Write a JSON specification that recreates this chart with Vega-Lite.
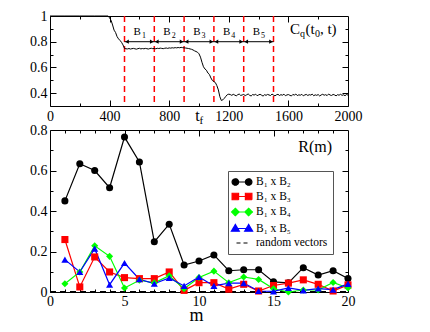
{
  "$schema": "https://vega.github.io/schema/vega-lite/v6.json",
  "padding": {"left": 29, "top": 8, "right": 5, "bottom": 5},
  "config": {
    "view": {"stroke": "black", "strokeWidth": 1},
    "axis": {"labelFont": "Liberation Serif", "labelFontSize": 14, "labelColor": "black", "tickColor": "black", "tickWidth": 1, "domain": false, "grid": false, "titleFont": "Liberation Serif", "titleFontWeight": "normal", "titleColor": "black", "labelOverlap": false, "labelFlush": false},
    "text": {"font": "Liberation Serif", "color": "black"}
  },
  "datasets": {
    "cq": [
      {"t":0,"c":1},{"t":100,"c":1},{"t":200,"c":1},{"t":300,"c":1},{"t":390,"c":1},
      {"t":400,"c":0.985},{"t":410,"c":0.966},{"t":420,"c":0.93},{"t":430,"c":0.89},{"t":440,"c":0.872},{"t":450,"c":0.84},{"t":460,"c":0.822},{"t":470,"c":0.81},{"t":480,"c":0.795},{"t":490,"c":0.775},{"t":500,"c":0.748},{"t":510,"c":0.745},
      {"t":520,"c":0.744},{"t":530,"c":0.747},{"t":540,"c":0.743},{"t":550,"c":0.746},{"t":560,"c":0.748},{"t":570,"c":0.745},{"t":580,"c":0.742},{"t":590,"c":0.746},{"t":600,"c":0.749},{"t":610,"c":0.744},
      {"t":620,"c":0.747},{"t":630,"c":0.745},{"t":640,"c":0.748},{"t":650,"c":0.746},{"t":660,"c":0.743},{"t":670,"c":0.747},{"t":680,"c":0.749},{"t":690,"c":0.746},{"t":700,"c":0.748},{"t":710,"c":0.745},
      {"t":720,"c":0.749},{"t":730,"c":0.747},{"t":740,"c":0.75},{"t":750,"c":0.748},{"t":760,"c":0.746},{"t":770,"c":0.749},{"t":780,"c":0.751},{"t":790,"c":0.748},{"t":800,"c":0.752},{"t":810,"c":0.75},
      {"t":820,"c":0.753},{"t":830,"c":0.751},{"t":840,"c":0.754},{"t":850,"c":0.752},{"t":860,"c":0.755},{"t":870,"c":0.753},{"t":880,"c":0.756},
      {"t":890,"c":0.754},{"t":900,"c":0.752},{"t":910,"c":0.751},{"t":920,"c":0.749},{"t":930,"c":0.747},{"t":940,"c":0.744},{"t":950,"c":0.741},{"t":960,"c":0.736},{"t":970,"c":0.729},{"t":980,"c":0.724},
      {"t":990,"c":0.718},{"t":1000,"c":0.706},{"t":1010,"c":0.68},{"t":1020,"c":0.64},{"t":1030,"c":0.605},{"t":1040,"c":0.588},{"t":1050,"c":0.578},{"t":1060,"c":0.556},{"t":1070,"c":0.545},{"t":1080,"c":0.518},
      {"t":1090,"c":0.498},{"t":1100,"c":0.49},{"t":1110,"c":0.482},{"t":1120,"c":0.458},{"t":1130,"c":0.425},{"t":1140,"c":0.372},{"t":1150,"c":0.343},{"t":1160,"c":0.348},{"t":1170,"c":0.36},{"t":1180,"c":0.375},
      {"t":1190,"c":0.388},{"t":1200,"c":0.392},
      {"t":1210,"c":0.389},{"t":1220,"c":0.383},{"t":1230,"c":0.391},{"t":1240,"c":0.385},{"t":1250,"c":0.379},{"t":1260,"c":0.388},{"t":1270,"c":0.393},{"t":1280,"c":0.382},{"t":1290,"c":0.386},{"t":1300,"c":0.39},
      {"t":1310,"c":0.381},{"t":1320,"c":0.387},{"t":1330,"c":0.394},{"t":1340,"c":0.383},{"t":1350,"c":0.378},{"t":1360,"c":0.389},{"t":1370,"c":0.385},{"t":1380,"c":0.392},{"t":1390,"c":0.38},{"t":1400,"c":0.386},
      {"t":1410,"c":0.391},{"t":1420,"c":0.384},{"t":1430,"c":0.377},{"t":1440,"c":0.388},{"t":1450,"c":0.383},{"t":1460,"c":0.39},{"t":1470,"c":0.386},{"t":1480,"c":0.381},{"t":1490,"c":0.393},{"t":1500,"c":0.385},
      {"t":1510,"c":0.379},{"t":1520,"c":0.387},{"t":1530,"c":0.391},{"t":1540,"c":0.382},{"t":1550,"c":0.388},{"t":1560,"c":0.384},{"t":1570,"c":0.392},{"t":1580,"c":0.38},{"t":1590,"c":0.386},{"t":1600,"c":0.389},
      {"t":1610,"c":0.383},{"t":1620,"c":0.378},{"t":1630,"c":0.39},{"t":1640,"c":0.385},{"t":1650,"c":0.393},{"t":1660,"c":0.381},{"t":1670,"c":0.387},{"t":1680,"c":0.384},{"t":1690,"c":0.391},{"t":1700,"c":0.379},
      {"t":1710,"c":0.386},{"t":1720,"c":0.39},{"t":1730,"c":0.382},{"t":1740,"c":0.388},{"t":1750,"c":0.385},{"t":1760,"c":0.392},{"t":1770,"c":0.38},{"t":1780,"c":0.387},{"t":1790,"c":0.383},{"t":1800,"c":0.389},
      {"t":1810,"c":0.378},{"t":1820,"c":0.386},{"t":1830,"c":0.391},{"t":1840,"c":0.384},{"t":1850,"c":0.388},{"t":1860,"c":0.381},{"t":1870,"c":0.393},{"t":1880,"c":0.385},{"t":1890,"c":0.382},{"t":1900,"c":0.39},
      {"t":1910,"c":0.386},{"t":1920,"c":0.379},{"t":1930,"c":0.388},{"t":1940,"c":0.384},{"t":1950,"c":0.391},{"t":1960,"c":0.383},{"t":1970,"c":0.387},{"t":1980,"c":0.38},{"t":1990,"c":0.389},{"t":2000,"c":0.385}
    ],
    "blocks": [
      {"n":"1","start":500,"end":700,"mid":600},
      {"n":"2","start":700,"end":900,"mid":800},
      {"n":"3","start":900,"end":1100,"mid":1000},
      {"n":"4","start":1100,"end":1300,"mid":1200},
      {"n":"5","start":1300,"end":1500,"mid":1400}
    ],
    "edges": [{"t":500},{"t":700},{"t":900},{"t":1100},{"t":1300},{"t":1500}],
    "rm": [
      {"m":1,"s":"B₁ x B₂","r":0.45},{"m":2,"s":"B₁ x B₂","r":0.633},{"m":3,"s":"B₁ x B₂","r":0.6},{"m":4,"s":"B₁ x B₂","r":0.515},{"m":5,"s":"B₁ x B₂","r":0.765},
      {"m":6,"s":"B₁ x B₂","r":0.642},{"m":7,"s":"B₁ x B₂","r":0.248},{"m":8,"s":"B₁ x B₂","r":0.335},{"m":9,"s":"B₁ x B₂","r":0.133},{"m":10,"s":"B₁ x B₂","r":0.153},
      {"m":11,"s":"B₁ x B₂","r":0.183},{"m":12,"s":"B₁ x B₂","r":0.105},{"m":13,"s":"B₁ x B₂","r":0.11},{"m":14,"s":"B₁ x B₂","r":0.11},{"m":15,"s":"B₁ x B₂","r":0.05},
      {"m":16,"s":"B₁ x B₂","r":0.045},{"m":17,"s":"B₁ x B₂","r":0.12},{"m":18,"s":"B₁ x B₂","r":0.084},{"m":19,"s":"B₁ x B₂","r":0.105},{"m":20,"s":"B₁ x B₂","r":0.067},
      {"m":1,"s":"B₁ x B₃","r":0.259},{"m":2,"s":"B₁ x B₃","r":0.025},{"m":3,"s":"B₁ x B₃","r":0.173},{"m":4,"s":"B₁ x B₃","r":0.099},{"m":5,"s":"B₁ x B₃","r":0.071},
      {"m":6,"s":"B₁ x B₃","r":0.066},{"m":7,"s":"B₁ x B₃","r":0.066},{"m":8,"s":"B₁ x B₃","r":0.099},{"m":9,"s":"B₁ x B₃","r":0.008},{"m":10,"s":"B₁ x B₃","r":0.046},
      {"m":11,"s":"B₁ x B₃","r":0.046},{"m":12,"s":"B₁ x B₃","r":0.014},{"m":13,"s":"B₁ x B₃","r":0.038},{"m":14,"s":"B₁ x B₃","r":0.005},{"m":15,"s":"B₁ x B₃","r":0.032},
      {"m":16,"s":"B₁ x B₃","r":0.044},{"m":17,"s":"B₁ x B₃","r":0.06},{"m":18,"s":"B₁ x B₃","r":0.038},{"m":19,"s":"B₁ x B₃","r":0.005},{"m":20,"s":"B₁ x B₃","r":0.035},
      {"m":1,"s":"B₁ x B₄","r":0.041},{"m":2,"s":"B₁ x B₄","r":0.099},{"m":3,"s":"B₁ x B₄","r":0.228},{"m":4,"s":"B₁ x B₄","r":0.176},{"m":5,"s":"B₁ x B₄","r":0.02},
      {"m":6,"s":"B₁ x B₄","r":0.058},{"m":7,"s":"B₁ x B₄","r":0.045},{"m":8,"s":"B₁ x B₄","r":0.08},{"m":9,"s":"B₁ x B₄","r":0.016},{"m":10,"s":"B₁ x B₄","r":0.072},
      {"m":11,"s":"B₁ x B₄","r":0.103},{"m":12,"s":"B₁ x B₄","r":0.046},{"m":13,"s":"B₁ x B₄","r":0.074},{"m":14,"s":"B₁ x B₄","r":0.062},{"m":15,"s":"B₁ x B₄","r":0.016},
      {"m":16,"s":"B₁ x B₄","r":0.0},{"m":17,"s":"B₁ x B₄","r":0.01},{"m":18,"s":"B₁ x B₄","r":0.01},{"m":19,"s":"B₁ x B₄","r":0.047},{"m":20,"s":"B₁ x B₄","r":0.02},
      {"m":1,"s":"B₁ x B₅","r":0.16},{"m":2,"s":"B₁ x B₅","r":0.099},{"m":3,"s":"B₁ x B₅","r":0.214},{"m":4,"s":"B₁ x B₅","r":0.036},{"m":5,"s":"B₁ x B₅","r":0.143},
      {"m":6,"s":"B₁ x B₅","r":0.063},{"m":7,"s":"B₁ x B₅","r":0.041},{"m":8,"s":"B₁ x B₅","r":0.069},{"m":9,"s":"B₁ x B₅","r":0.03},{"m":10,"s":"B₁ x B₅","r":0.074},
      {"m":11,"s":"B₁ x B₅","r":0.03},{"m":12,"s":"B₁ x B₅","r":0.044},{"m":13,"s":"B₁ x B₅","r":0.044},{"m":14,"s":"B₁ x B₅","r":0.005},{"m":15,"s":"B₁ x B₅","r":0.003},
      {"m":16,"s":"B₁ x B₅","r":0.02},{"m":17,"s":"B₁ x B₅","r":0.008},{"m":18,"s":"B₁ x B₅","r":0.017},{"m":19,"s":"B₁ x B₅","r":0.012},{"m":20,"s":"B₁ x B₅","r":0.04},
      {"m":0,"s":"random vectors","r":0.002},{"m":20,"s":"random vectors","r":0.002}
    ]
  },
  "spacing": 24,
  "bounds": "flush",
  "vconcat": [
    {
      "width": 298,
      "height": 90,
      "resolve": {"axis": {"x": "independent", "y": "independent"}},
      "layer": [
        {
          "data": {"name": "cq"},
          "mark": {"type": "line", "strokeOpacity": 0},
          "encoding": {
            "x": {"field": "t", "type": "quantitative", "scale": {"domain": [0, 2000], "nice": false},
              "axis": {"orient": "top", "values": [200,400,600,800,1000,1200,1400,1600,1800], "labels": false, "title": null,
                "tickSize": {"condition": {"test": "datum.value % 400 === 0", "value": -6}, "value": -3}}},
            "y": {"field": "c", "type": "quantitative", "scale": {"domain": [0.3, 1], "nice": false, "zero": false},
              "axis": {"orient": "right", "values": [0.4,0.5,0.6,0.7,0.8,0.9], "labels": false, "title": null,
                "tickSize": {"condition": {"test": "round(datum.value*10) % 2 === 0", "value": -6}, "value": -3}}}
          }
        },
        {
          "data": {"name": "edges"},
          "mark": {"type": "rule", "color": "#ff0000", "strokeWidth": 1.5, "strokeDash": [6, 4]},
          "encoding": {
            "x": {"field": "t", "type": "quantitative", "scale": {"domain": [0, 2000], "nice": false}, "axis": null}
          }
        },
        {
          "data": {"name": "blocks"},
          "mark": {"type": "rule", "color": "black", "strokeWidth": 1},
          "encoding": {
            "x": {"field": "start", "type": "quantitative", "scale": {"domain": [0, 2000], "nice": false}, "axis": null},
            "x2": {"field": "end"},
            "y": {"datum": 0.8, "type": "quantitative", "scale": {"domain": [0.3, 1], "nice": false, "zero": false}, "axis": null}
          }
        },
        {
          "data": {"name": "blocks"},
          "mark": {"type": "point", "shape": "triangle-left", "filled": true, "color": "black", "opacity": 1, "size": 18, "xOffset": 2.5},
          "encoding": {
            "x": {"field": "start", "type": "quantitative", "scale": {"domain": [0, 2000], "nice": false}, "axis": null},
            "y": {"datum": 0.8, "type": "quantitative", "scale": {"domain": [0.3, 1], "nice": false, "zero": false}, "axis": null}
          }
        },
        {
          "data": {"name": "blocks"},
          "mark": {"type": "point", "shape": "triangle-right", "filled": true, "color": "black", "opacity": 1, "size": 18, "xOffset": -2.5},
          "encoding": {
            "x": {"field": "end", "type": "quantitative", "scale": {"domain": [0, 2000], "nice": false}, "axis": null},
            "y": {"datum": 0.8, "type": "quantitative", "scale": {"domain": [0.3, 1], "nice": false, "zero": false}, "axis": null}
          }
        },
        {
          "data": {"name": "blocks"},
          "mark": {"type": "text", "text": "B", "align": "right", "baseline": "alphabetic", "dx": 1.5, "fontSize": 11},
          "encoding": {
            "x": {"field": "mid", "type": "quantitative", "scale": {"domain": [0, 2000], "nice": false}, "axis": null},
            "y": {"datum": 0.852, "type": "quantitative", "scale": {"domain": [0.3, 1], "nice": false, "zero": false}, "axis": null}
          }
        },
        {
          "data": {"name": "blocks"},
          "mark": {"type": "text", "align": "left", "baseline": "alphabetic", "dx": 2.5, "dy": 2.5, "fontSize": 8},
          "encoding": {
            "x": {"field": "mid", "type": "quantitative", "scale": {"domain": [0, 2000], "nice": false}, "axis": null},
            "y": {"datum": 0.852, "type": "quantitative", "scale": {"domain": [0.3, 1], "nice": false, "zero": false}, "axis": null},
            "text": {"field": "n"}
          }
        },
        {
          "data": {"name": "cq"},
          "mark": {"type": "line", "color": "black", "strokeWidth": 1},
          "encoding": {
            "x": {"field": "t", "type": "quantitative", "scale": {"domain": [0, 2000], "nice": false},
              "axis": {"orient": "bottom", "values": [0,200,400,600,800,1000,1200,1400,1600,1800,2000], "title": null,
                "labelExpr": "datum.value % 400 === 0 ? format(datum.value, 'd') : ''", "labelPadding": 9,
                "tickSize": {"condition": {"test": "datum.value % 400 === 0", "value": -6}, "value": -3}}},
            "y": {"field": "c", "type": "quantitative", "scale": {"domain": [0.3, 1], "nice": false, "zero": false},
              "axis": {"orient": "left", "values": [0.4,0.5,0.6,0.7,0.8,0.9,1.0], "title": null,
                "labelExpr": "round(datum.value*10) % 2 === 0 ? format(datum.value, '~g') : ''", "labelPadding": 9,
                "tickSize": {"condition": {"test": "round(datum.value*10) % 2 === 0", "value": -6}, "value": -3}}}
          }
        },
        {
          "data": {"values": [{}]},
          "mark": {"type": "text", "text": "C", "align": "left", "baseline": "alphabetic", "fontSize": 15},
          "encoding": {
            "x": {"datum": 1610, "type": "quantitative", "scale": {"domain": [0, 2000], "nice": false}, "axis": null},
            "y": {"datum": 0.862, "type": "quantitative", "scale": {"domain": [0.3, 1], "nice": false, "zero": false}, "axis": null}
          }
        },
        {
          "data": {"values": [{}]},
          "mark": {"type": "text", "text": "q", "align": "left", "baseline": "alphabetic", "fontSize": 10, "dx": 10, "dy": 3.5},
          "encoding": {
            "x": {"datum": 1610, "type": "quantitative", "scale": {"domain": [0, 2000], "nice": false}, "axis": null},
            "y": {"datum": 0.862, "type": "quantitative", "scale": {"domain": [0.3, 1], "nice": false, "zero": false}, "axis": null}
          }
        },
        {
          "data": {"values": [{}]},
          "mark": {"type": "text", "text": "(t", "align": "left", "baseline": "alphabetic", "fontSize": 15, "dx": 15.5},
          "encoding": {
            "x": {"datum": 1610, "type": "quantitative", "scale": {"domain": [0, 2000], "nice": false}, "axis": null},
            "y": {"datum": 0.862, "type": "quantitative", "scale": {"domain": [0.3, 1], "nice": false, "zero": false}, "axis": null}
          }
        },
        {
          "data": {"values": [{}]},
          "mark": {"type": "text", "text": "0", "align": "left", "baseline": "alphabetic", "fontSize": 10, "dx": 25, "dy": 3.5},
          "encoding": {
            "x": {"datum": 1610, "type": "quantitative", "scale": {"domain": [0, 2000], "nice": false}, "axis": null},
            "y": {"datum": 0.862, "type": "quantitative", "scale": {"domain": [0.3, 1], "nice": false, "zero": false}, "axis": null}
          }
        },
        {
          "data": {"values": [{}]},
          "mark": {"type": "text", "text": ", t)", "align": "left", "baseline": "alphabetic", "fontSize": 15, "dx": 30},
          "encoding": {
            "x": {"datum": 1610, "type": "quantitative", "scale": {"domain": [0, 2000], "nice": false}, "axis": null},
            "y": {"datum": 0.862, "type": "quantitative", "scale": {"domain": [0.3, 1], "nice": false, "zero": false}, "axis": null}
          }
        },
        {
          "data": {"values": [{}]},
          "mark": {"type": "text", "text": "t", "align": "center", "baseline": "alphabetic", "fontSize": 16},
          "encoding": {
            "x": {"datum": 990, "type": "quantitative", "scale": {"domain": [0, 2000], "nice": false}, "axis": null},
            "y": {"datum": 0.183, "type": "quantitative", "scale": {"domain": [0.3, 1], "nice": false, "zero": false}, "axis": null}
          }
        },
        {
          "data": {"values": [{}]},
          "mark": {"type": "text", "text": "f", "align": "left", "baseline": "alphabetic", "fontSize": 11, "dx": 2, "dy": 3},
          "encoding": {
            "x": {"datum": 990, "type": "quantitative", "scale": {"domain": [0, 2000], "nice": false}, "axis": null},
            "y": {"datum": 0.183, "type": "quantitative", "scale": {"domain": [0.3, 1], "nice": false, "zero": false}, "axis": null}
          }
        }
      ]
    },
    {
      "width": 298,
      "height": 162,
      "resolve": {"axis": {"x": "independent", "y": "independent"}},
      "layer": [
        {
          "data": {"name": "rm"},
          "mark": {"type": "line", "strokeOpacity": 0},
          "encoding": {
            "x": {"field": "m", "type": "quantitative", "scale": {"domain": [0, 20], "nice": false},
              "axis": {"orient": "top", "values": [1,2,3,4,5,6,7,8,9,10,11,12,13,14,15,16,17,18,19], "labels": false, "title": null,
                "tickSize": {"condition": {"test": "datum.value % 5 === 0", "value": -6}, "value": -3}}},
            "y": {"field": "r", "type": "quantitative", "scale": {"domain": [0, 0.8], "nice": false},
              "axis": {"orient": "right", "values": [0.1,0.2,0.3,0.4,0.5,0.6,0.7], "labels": false, "title": null,
                "tickSize": {"condition": {"test": "round(datum.value*10) % 2 === 0", "value": -6}, "value": -3}}}
          }
        },
        {
          "data": {"name": "rm"},
          "transform": [{"filter": "datum.s === 'random vectors'"}],
          "mark": {"type": "line", "strokeWidth": 1.2, "strokeDash": [6, 4]},
          "encoding": {
            "x": {"field": "m", "type": "quantitative", "scale": {"domain": [0, 20], "nice": false}, "axis": null},
            "y": {"field": "r", "type": "quantitative", "scale": {"domain": [0, 0.8], "nice": false}, "axis": null},
            "color": {"field": "s", "type": "nominal",
              "scale": {"domain": ["B₁ x B₂", "B₁ x B₃", "B₁ x B₄", "B₁ x B₅", "random vectors"], "range": ["black", "#ff0000", "#00ff00", "#0000ff", "black"]}}
          }
        },
        {
          "data": {"name": "rm"},
          "transform": [{"filter": "datum.s !== 'random vectors'"}],
          "mark": {"type": "line", "strokeWidth": 1.2},
          "encoding": {
            "x": {"field": "m", "type": "quantitative", "scale": {"domain": [0, 20], "nice": false},
              "axis": {"orient": "bottom", "values": [0,1,2,3,4,5,6,7,8,9,10,11,12,13,14,15,16,17,18,19,20],
                "labelExpr": "datum.value % 5 === 0 ? datum.label : ''", "labelPadding": 8,
                "tickSize": {"condition": {"test": "datum.value % 5 === 0", "value": -6}, "value": -3},
                "title": "m", "titleFontSize": 18, "titleBaseline": "alphabetic", "titleX": 146, "titleY": 28}},
            "y": {"field": "r", "type": "quantitative", "scale": {"domain": [0, 0.8], "nice": false},
              "axis": {"orient": "left", "values": [0,0.1,0.2,0.3,0.4,0.5,0.6,0.7,0.8], "title": null,
                "labelExpr": "round(datum.value*10) % 2 === 0 ? format(datum.value, '~g') : ''", "labelPadding": 9,
                "tickSize": {"condition": {"test": "round(datum.value*10) % 2 === 0", "value": -6}, "value": -3}}},
            "color": {"field": "s", "type": "nominal",
              "scale": {"domain": ["B₁ x B₂", "B₁ x B₃", "B₁ x B₄", "B₁ x B₅", "random vectors"], "range": ["black", "#ff0000", "#00ff00", "#0000ff", "black"]},
              "legend": {"orient": "none", "legendX": 178, "legendY": 155, "title": null, "padding": 5,
                "strokeColor": "#555555", "fillColor": "white", "cornerRadius": 0,
                "labelFont": "Liberation Serif", "labelFontSize": 11.5, "labelColor": "black",
                "symbolSize": 100, "symbolStrokeWidth": 1.2, "symbolOffset": 3, "labelOffset": 8, "rowPadding": 2.5,
                "encode": {"symbols": {"update": {
                  "shape": {"signal": "datum.index === 0 ? 'M-1.33,0L1.33,0M-1.98,0a0.65,0.65 0 1,0 1.3,0a0.65,0.65 0 1,0 -1.3,0M0.68,0a0.65,0.65 0 1,0 1.3,0a0.65,0.65 0 1,0 -1.3,0' : datum.index === 1 ? 'M-1.33,0L1.33,0M-1.98,-0.65h1.3v1.3h-1.3zM0.68,-0.65h1.3v1.3h-1.3z' : datum.index === 2 ? 'M-1.33,0L1.33,0M-1.33,-0.75l0.75,0.75l-0.75,0.75l-0.75,-0.75zM1.33,-0.75l0.75,0.75l-0.75,0.75l-0.75,-0.75z' : datum.index === 3 ? 'M-1.33,0L1.33,0M-1.33,-0.8l0.8,1.35h-1.6zM1.33,-0.8l0.8,1.35h-1.6z' : 'M-1.1,0L1.1,0'"},
                  "fill": {"signal": "datum.index === 1 ? '#ff0000' : datum.index === 2 ? '#00ff00' : datum.index === 3 ? '#0000ff' : 'black'"},
                  "stroke": {"signal": "datum.index === 1 ? '#ff0000' : datum.index === 2 ? '#00ff00' : datum.index === 3 ? '#0000ff' : 'black'"},
                  "strokeDash": {"signal": "datum.index === 4 ? [4, 3] : [1, 0]"},
                  "opacity": {"value": 1}
                }}}}}
          }
        },
        {
          "data": {"name": "rm"},
          "transform": [{"filter": "datum.s !== 'random vectors'"}],
          "mark": {"type": "point", "filled": true, "opacity": 1, "size": 50},
          "encoding": {
            "x": {"field": "m", "type": "quantitative", "scale": {"domain": [0, 20], "nice": false}, "axis": null},
            "y": {"field": "r", "type": "quantitative", "scale": {"domain": [0, 0.8], "nice": false}, "axis": null},
            "color": {"field": "s", "type": "nominal",
              "scale": {"domain": ["B₁ x B₂", "B₁ x B₃", "B₁ x B₄", "B₁ x B₅", "random vectors"], "range": ["black", "#ff0000", "#00ff00", "#0000ff", "black"]}},
            "shape": {"field": "s", "type": "nominal", "legend": null,
              "scale": {"domain": ["B₁ x B₂", "B₁ x B₃", "B₁ x B₄", "B₁ x B₅"], "range": ["circle", "square", "diamond", "triangle-up"]}}
          }
        },
        {
          "data": {"values": [{}]},
          "mark": {"type": "text", "text": "R(m)", "align": "left", "baseline": "alphabetic", "fontSize": 16},
          "encoding": {
            "x": {"datum": 16.66, "type": "quantitative", "scale": {"domain": [0, 20], "nice": false}, "axis": null},
            "y": {"datum": 0.693, "type": "quantitative", "scale": {"domain": [0, 0.8], "nice": false}, "axis": null}
          }
        }
      ]
    }
  ]
}
